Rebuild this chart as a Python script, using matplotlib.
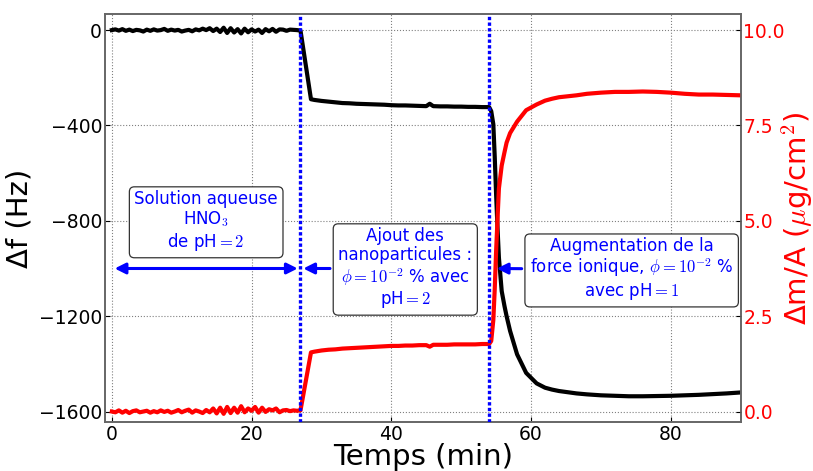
import matplotlib
matplotlib.use("Agg")
import matplotlib.pyplot as plt

# Time (min)
time = [0, 0.5, 1, 1.5, 2, 2.5, 3, 3.5, 4, 4.5, 5, 5.5, 6, 6.5, 7, 7.5, 8, 8.5, 9, 9.5,
        10, 10.5, 11, 11.5, 12, 12.5, 13, 13.5, 14, 14.5, 15, 15.5, 16, 16.5, 17, 17.5,
        18, 18.5, 19, 19.5, 20, 20.5, 21, 21.5, 22, 22.5, 23, 23.5, 24, 24.5, 25, 25.5,
        26, 26.5, 27,
        28.5, 29, 30, 31, 32, 33, 34, 35, 36, 37, 38, 39, 40, 41, 42, 43, 44, 45, 45.5,
        46, 47, 48, 49, 50, 51, 52, 53, 54,
        54.3, 54.6, 54.8, 55.0, 55.2, 55.4, 55.8, 56.2, 56.5, 57, 58, 59.3, 60.8, 62, 63,
        64, 65, 66.5, 68, 70, 72, 74, 76, 78, 80, 82, 84, 86, 88, 90]

# Frequency shift (Hz)
delta_f = [0, 3, -2, 4, -3, 2, -4, 1, -1, -6, 2, -3, 3, -2, 0, 5, -3, 2, -2, 1,
           -6, -2, 1, -5, 3, -1, 6, 0, 8, -4, 6, -8, 10, -12, 8, -10, 4, -14, 6, -9,
           3, -6, 2, -12, 4, -5, 5, -7, 3, 2, -3, 2, 1, 0, -2,
           -290, -293, -297, -300, -303, -306, -307, -309, -310, -311, -312, -313, -315,
           -316, -316, -317, -318, -319, -309, -319, -320, -320, -321, -321, -322, -322,
           -323, -323,
           -340, -395, -530, -690, -830, -955, -1095, -1158, -1200, -1262, -1360, -1438,
           -1482, -1500, -1508, -1514, -1518, -1524, -1528, -1532, -1534, -1536, -1536,
           -1535, -1534, -1532, -1530, -1527, -1524, -1520]

# Mass per area (ug/cm2)
delta_m = [0.0, -0.02, 0.03, -0.03, 0.02, -0.04, 0.01, 0.03, -0.02, 0.0,
           0.02, -0.03, 0.01, -0.02, 0.03, -0.01, 0.02, -0.03, 0.0, 0.04,
           -0.02, 0.02, 0.05, -0.03, 0.03, 0.0, -0.04, 0.04, -0.02, 0.08,
           -0.05, 0.1, -0.06, 0.12, -0.04, 0.1, -0.03, 0.14, -0.02, 0.08,
           0.02, 0.12, -0.03, 0.1, -0.01, 0.06, 0.03, 0.08, -0.02, 0.03,
           0.04, 0.01, 0.03, 0.02, 0.03,
           1.55, 1.57, 1.6, 1.62, 1.63, 1.65, 1.66, 1.67, 1.68, 1.69, 1.7, 1.71, 1.72,
           1.72, 1.73, 1.73, 1.74, 1.74, 1.7, 1.75, 1.75, 1.75, 1.76, 1.76, 1.76, 1.76,
           1.77, 1.77,
           1.85, 2.4, 3.2, 4.2, 5.05, 5.85, 6.45, 6.8, 7.05, 7.3, 7.6, 7.9, 8.05, 8.15,
           8.2, 8.24, 8.26, 8.29, 8.33, 8.36, 8.38, 8.38, 8.39, 8.38, 8.36, 8.33, 8.31,
           8.31, 8.3, 8.29]

x_ticks = [0, 20, 40, 60, 80]
f_ticks = [0, -400, -800, -1200, -1600]
m_ticks = [0.0, 2.5, 5.0, 7.5, 10.0]
steps = [27, 54]

plt.rcParams["mathtext.fontset"] = "cm"
plt.rcParams["font.family"] = ["DejaVu Sans"]

fig, ax = plt.subplots(figsize=(8.13, 4.71), dpi=100)
fig.subplots_adjust(left=0.129, right=0.911, top=0.970, bottom=0.104)
ax2 = ax.twinx()

ax.plot(time, delta_f, color="black", lw=3)
ax2.plot(time, delta_m, color="red", lw=3)

for t in steps:
    ax2.axvline(t, color="blue", lw=2.4, ls=(0, (1, 0.7)), zorder=3)

ax.set_xlim(-1, 90)
ax.set_ylim(-1644, 67)
# 0 Hz <-> 10 ug/cm2, -1600 Hz <-> 0 ug/cm2
ax2.set_ylim(10 - 1644 / 160, 10 + 67 / 160)
ax.set_xticks(x_ticks)
ax.set_yticks(f_ticks)
ax2.set_yticks(m_ticks)

ax.grid(True, ls=":", color="gray", lw=0.8)

ax.set_xlabel("Temps (min)", fontsize=21)
ax.xaxis.set_label_coords(0.5, -0.052)
ax.set_ylabel("Δf (Hz)", fontsize=21)
ax2.set_ylabel(r"Δm/A ($\mu$g/cm$^2$)", fontsize=21, color="red", labelpad=-4)

ax.tick_params(axis="both", labelsize=13.5, direction="in")
ax.tick_params(axis="y", pad=2)
ax.tick_params(axis="x", pad=2)
ax2.tick_params(axis="y", labelsize=13.5, direction="in", labelcolor="red", pad=2)

for a in (ax, ax2):
    for s in a.spines.values():
        s.set_color("0.4")
        s.set_linewidth(1.2)

box = dict(boxstyle="round,pad=0.3", fc="white", ec="0.2", lw=0.9)
arrow = dict(arrowstyle="-|>", color="blue", lw=2.2, mutation_scale=16)

ax2.annotate("", xy=(0, -1000), xytext=(27, -1000),
             xycoords=ax.transData, textcoords=ax.transData,
             arrowprops=dict(arrowstyle="<|-|>", color="blue", lw=2.2, mutation_scale=16))
ax2.text(13.5, -802, "Solution aqueuse\nHNO$_3$\nde pH$=2$", transform=ax.transData,
         ha="center", va="center", color="blue", fontsize=12, bbox=box, zorder=4,
         linespacing=1.1)
ax2.annotate("Ajout des\nnanoparticules :\n$\\phi=10^{-2}$ % avec\npH$=2$",
             xy=(27, -1000), xytext=(42, -1000),
             xycoords=ax.transData, textcoords=ax.transData,
             ha="center", va="center", color="blue", fontsize=12, bbox=box,
             arrowprops=arrow, zorder=4, linespacing=1.1)
ax2.annotate("Augmentation de la\nforce ionique, $\\phi=10^{-2}$ %\navec pH$=1$",
             xy=(54.7, -1000), xytext=(74.4, -1004),
             xycoords=ax.transData, textcoords=ax.transData,
             ha="center", va="center", color="blue", fontsize=12, bbox=box,
             arrowprops=arrow, zorder=4, linespacing=1.1)

fig.savefig("out.png", dpi=100)
